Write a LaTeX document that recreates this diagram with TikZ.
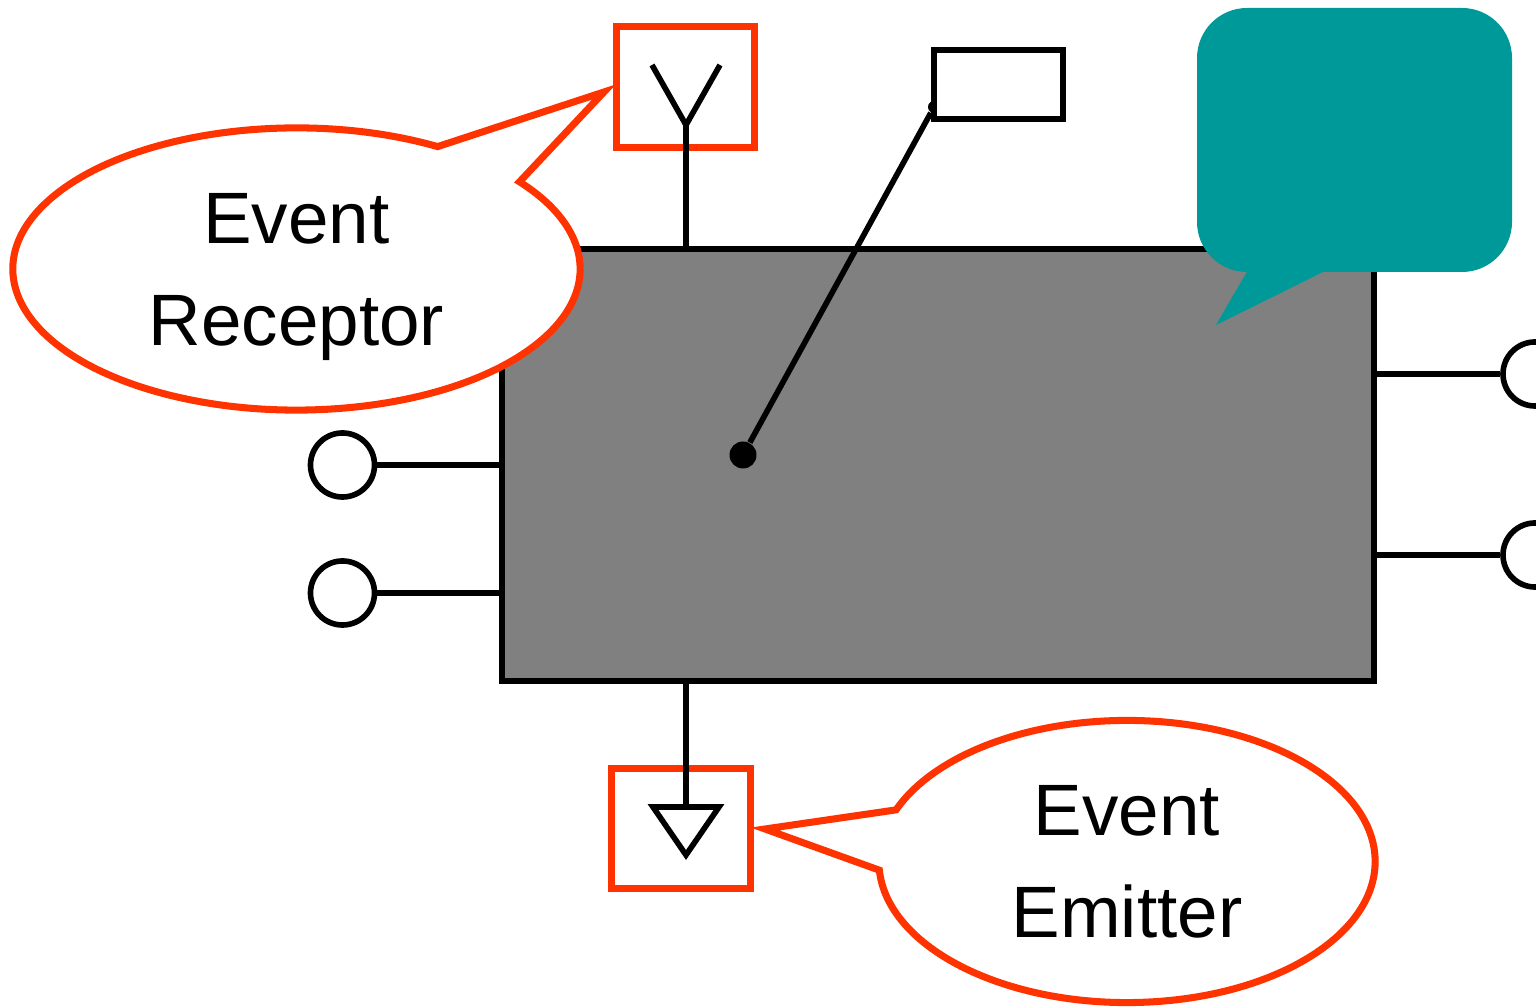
\documentclass[tikz,border=0pt]{standalone}
\usepackage{fontspec}
\setmainfont{Liberation Sans}
\usetikzlibrary{shapes.callouts,shapes.geometric,positioning}

\definecolor{calloutred}{RGB}{255,51,0}
\definecolor{noteteal}{RGB}{0,153,153}
\definecolor{compgray}{RGB}{128,128,128}

\tikzset{
  wire/.style={draw=black, line width=1.6pt},
  port/.style={circle, draw, line width=1.6pt, fill=white, minimum size=0.64cm, inner sep=0pt},
  markbox/.style={rectangle, draw=calloutred, line width=2pt, inner sep=0pt},
  bubble/.style={ellipse callout, draw=calloutred, fill=white, line width=2pt, inner sep=0pt,
    align=center, font=\fontsize{20.7}{29}\selectfont, minimum height=2.82cm, text depth=0pt}
}

\begin{document}
\begin{tikzpicture}[x=0.01cm, y=-0.01cm]
			\useasboundingbox (0,0) rectangle (1536,1007);
			\node[rectangle, draw, line width=1.6pt, fill=compgray, minimum width=8.72cm, minimum height=4.32cm, inner sep=0pt] (comp) at (938,465) {};
			% note callout
			\fill[noteteal, rounded corners=0.5cm] (1197,8) rectangle (1512,272);
			\fill[noteteal] (1248,270) -- (1216,325) -- (1327,270) -- cycle;
			% marker boxes
			\node[markbox, minimum width=1.37cm, minimum height=1.2cm] (rcvbox) at (685.5,87) {};
			\node[markbox, minimum width=1.38cm, minimum height=1.19cm] (emtbox) at (681,828.5) {};
			\coordinate (rcvtip) at (604,92);
			\coordinate (emttip) at (765,829);
			% ports
			\node[port] (pl1) at (342.5,465) {};
			\node[port] (pl2) at (342.5,593) {};
			\node[port] (pr1) at (1535,374) {};
			\node[port] (pr2) at (1535,555) {};
			\draw[wire] (pl1) -- (comp.west |- pl1);
			\draw[wire] (pl2) -- (comp.west |- pl2);
			\draw[wire] (pr1) -- (comp.east |- pr1);
			\draw[wire] (pr2) -- (comp.east |- pr2);
			% receptor and emitter
			\coordinate (rcv) at (686,125);
			\coordinate (emt) at (686,807);
			\draw[wire] (comp.north -| rcv) -- (rcv);
			\draw[wire] (rcv) -- ++(-34,-60);
			\draw[wire] (rcv) -- ++(34,-60);
			\draw[wire] (comp.south -| emt) -- (emt);
			\draw[wire, fill=white] (emt) -- ++(-33,0) -- ++(33,48) -- ++(33,-48) -- cycle;
			% note
			\node[circle, fill, minimum size=0.12cm, inner sep=0pt] (tie) at (934,107) {};
			\node[circle, fill, minimum size=0.27cm, inner sep=0pt] (pin) at (743,455) {};
			\node[rectangle, draw, line width=1.6pt, fill=white, minimum width=1.29cm, minimum height=0.69cm, inner sep=0pt] (note) at (998.5,84.5) {};
			\draw[wire] (tie) -- (pin);
			% callouts
			\node[bubble, minimum width=5.67cm, callout absolute pointer={(rcvtip)}, callout pointer arc=22] (rcvtext) at (296.5,269) {Event\\Receptor};
			\node[bubble, minimum width=4.96cm, callout absolute pointer={(emttip)}, callout pointer arc=25] (emttext) at (1127,861.5) {Event\\Emitter};
		\end{tikzpicture}
\end{document}
